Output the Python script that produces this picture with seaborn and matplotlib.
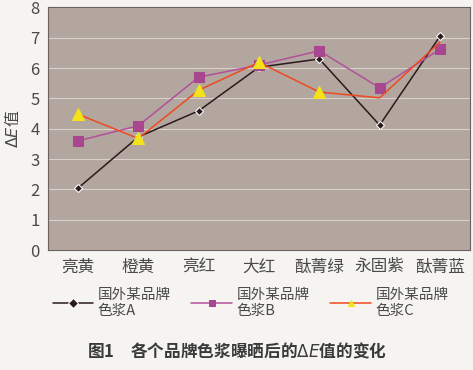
import numpy as np
import pandas as pd
import matplotlib
matplotlib.use("Agg")
import matplotlib.pyplot as plt
import seaborn as sns

# 数据
categories = ['亮黄', '橙黄', '亮红', '大红', '酞菁绿', '永固紫', '酞菁蓝']
series_names = ['国外某品牌\n色浆A', '国外某品牌\n色浆B', '国外某品牌\n色浆C']
values_a = [2.04, 3.73, 4.59, 6.03, 6.30, 4.12, 7.05]
values_b = [3.60, 4.10, 5.70, 6.10, 6.57, 5.35, 6.62]
values_c = [4.48, 3.68, 5.27, 6.19, 5.21, 5.02, 6.86]

df = pd.DataFrame({
    'cat': categories * 3,
    'val': values_a + values_b + values_c,
    'series': [series_names[0]] * 7 + [series_names[1]] * 7 + [series_names[2]] * 7,
})

sns.set_theme(style='white')
plt.rcParams['font.family'] = ['Noto Sans CJK SC', 'DejaVu Sans']
plt.rcParams['mathtext.fontset'] = 'dejavusans'

fig = plt.figure(figsize=(4.73, 3.70), dpi=100, facecolor='#f5f4f1')
ax = fig.add_axes([0.101, 0.324, 0.893, 0.656])
ax.set_facecolor('#b3a69e')

palette = {series_names[0]: '#2a1a1e', series_names[1]: '#b2509c', series_names[2]: '#ee4a22'}
markers = {series_names[0]: 'D', series_names[1]: 's', series_names[2]: '^'}
sns.lineplot(data=df, x='cat', y='val', hue='series', style='series', palette=palette,
             markers=markers, dashes=False, markersize=6.5, linewidth=1.1, ax=ax, sort=False)

# 标记颜色
lines = ax.get_lines()[:3]
for line, name in zip(lines, series_names):
    if name == series_names[2]:
        line.set_markerfacecolor('#f4e21a')
        line.set_markeredgecolor('#f4e21a')
        line.set_markersize(8)
    elif name == series_names[1]:
        line.set_markerfacecolor('#a8478f')
        line.set_markeredgecolor('#a8478f')
    else:
        line.set_markersize(4.5)

ax.set_xlim(-0.5, 6.5)
ax.set_ylim(0, 8)
ax.set_yticks(range(0, 9))
ax.yaxis.grid(True, color='#d8d0cc', linewidth=0.8)
ax.tick_params(axis='both', labelsize=12, colors='#4a4a4a', length=0, pad=6)
for s in ax.spines.values():
    s.set_color('#6a6060')
    s.set_linewidth(0.8)
ax.set_xlabel('')
ax.set_ylabel(r'$\mathit{\Delta E}$值', fontsize=11.5, color='#4a4a4a', labelpad=6)

leg = ax.legend(lines, series_names, loc='upper center', bbox_to_anchor=(0.48, -0.1), ncol=3,
                frameon=False, fontsize=10.5, handlelength=2.8, columnspacing=1.4,
                handletextpad=0.3)
for t in leg.get_texts():
    t.set_color('#4a4a4a')
for h in leg.legend_handles:
    h.set_markersize(5)

# 后两个点处C系列标记被遮挡（图例生成后再设置）
lines[2].set_markevery([0, 1, 2, 3, 4])

fig.text(0.5, 0.035, r'图1　各个品牌色浆曝晒后的$\mathit{\Delta E}$值的变化', ha='center',
         fontsize=12, color='#3a3a3a', fontweight='bold')

fig.savefig('out.png', dpi=100, facecolor=fig.get_facecolor())
